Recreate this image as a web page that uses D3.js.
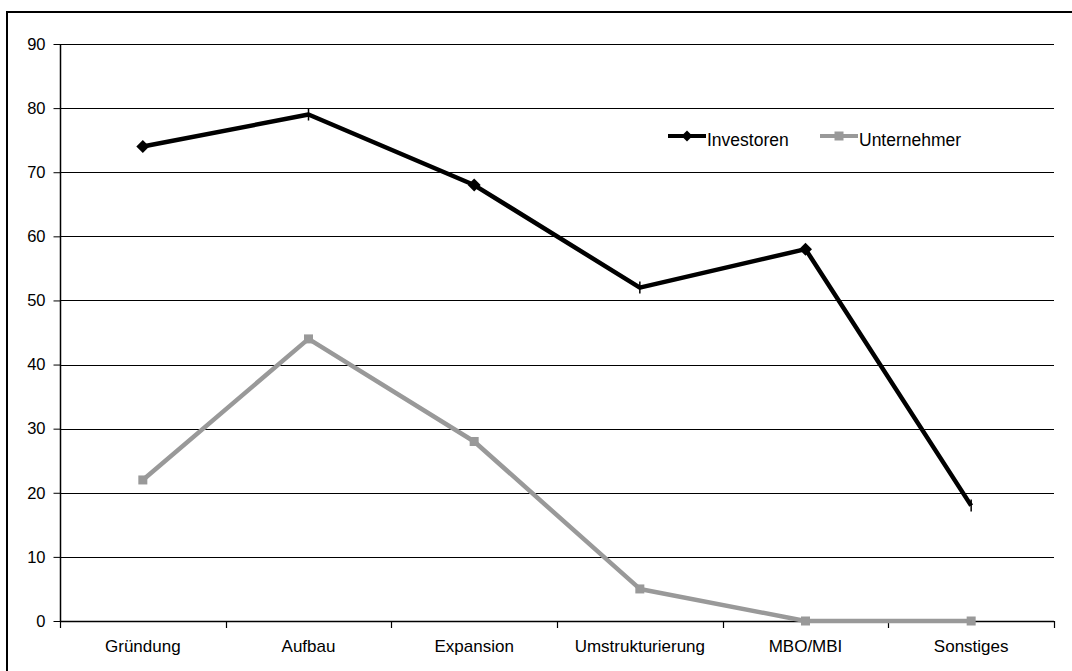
<!DOCTYPE html>
<html>
<head>
<meta charset="utf-8">
<script src="https://cdn.jsdelivr.net/npm/d3@7"></script>
<style>
  body { margin: 0; background: #fff; }
  svg { display: block; font-family: "Liberation Sans", Arial, sans-serif; }
</style>
</head>
<body>
<svg id="chart"></svg>
<script>
(function(){
    "use strict";

    const categories = ["Gründung", "Aufbau", "Expansion", "Umstrukturierung", "MBO/MBI", "Sonstiges"];
    const investoren = [74, 79, 68, 52, 58, 18];
    const unternehmer = [22, 44, 28, 5, 0, 0];
    const yTicks = [0, 10, 20, 30, 40, 50, 60, 70, 80, 90];

    const width = 1072,
        height = 671,
        left = 60, right = 1054, top = 44, bottom = 621,
        grey = "#999999";

    const svg = d3.select("svg#chart")
        .attr("width", width)
        .attr("height", height);

    // outer frame (only top and left edges visible)
    svg.append("path")
        .attr("d", `M7,${height} V12 H${width}`)
        .attr("fill", "none")
        .attr("stroke", "#000")
        .attr("stroke-width", 2);

    const x = d3.scaleBand().domain(categories).range([left, right]).padding(0);
    const y = d3.scaleLinear().domain([0, 90]).range([bottom, top]);
    const cx = d => x(d) + x.bandwidth() / 2;

    // gridlines
    svg.append("g")
        .selectAll("line")
        .data(yTicks.filter(d => d > 0))
        .join("line")
        .attr("x1", left).attr("x2", right)
        .attr("y1", d => Math.round(y(d)) + 0.5)
        .attr("y2", d => Math.round(y(d)) + 0.5)
        .attr("stroke", "#000")
        .attr("stroke-width", 1);

    // y axis
    const yAxis = svg.append("g")
        .attr("transform", `translate(${left + 0.5},0)`)
        .call(d3.axisLeft(y).tickValues(yTicks).tickSize(7).tickPadding(8));
    yAxis.select(".domain").remove();
    yAxis.selectAll(".tick line").attr("stroke", "#000");
    yAxis.selectAll("text").attr("font-size", 16.5).attr("fill", "#000").attr("font-family", null);
    svg.append("line")
        .attr("x1", left + 0.5).attr("x2", left + 0.5)
        .attr("y1", top).attr("y2", bottom)
        .attr("stroke", "#000").attr("stroke-width", 1.5);

    // x axis
    const xAxis = svg.append("g")
        .attr("transform", `translate(0,${bottom})`)
        .call(d3.axisBottom(x).tickSize(0).tickPadding(19));
    xAxis.select(".domain").remove();
    xAxis.selectAll("text").attr("font-size", 17).attr("fill", "#000").attr("font-family", null);

    svg.append("line")
        .attr("x1", left).attr("x2", right)
        .attr("y1", bottom + 0.5).attr("y2", bottom + 0.5)
        .attr("stroke", "#000").attr("stroke-width", 1.5);

    const edges = categories.map(d => x(d)).concat([right]);
    svg.append("g")
        .selectAll("line")
        .data(edges)
        .join("line")
        .attr("x1", d => Math.round(d) + 0.5).attr("x2", d => Math.round(d) + 0.5)
        .attr("y1", bottom).attr("y2", bottom + 7)
        .attr("stroke", "#000").attr("stroke-width", 1.2);

    const line = d3.line()
        .x((d, i) => cx(categories[i]))
        .y(d => y(d));

    // Unternehmer
    svg.append("path")
        .datum(unternehmer)
        .attr("d", line)
        .attr("fill", "none")
        .attr("stroke", grey)
        .attr("stroke-width", 4.5)
        .attr("stroke-linejoin", "round");

    svg.append("g")
        .selectAll("rect")
        .data(unternehmer)
        .join("rect")
        .attr("x", (d, i) => cx(categories[i]) - 4.5)
        .attr("y", d => y(d) - 4.5)
        .attr("width", 9).attr("height", 9)
        .attr("fill", grey);

    // Investoren
    svg.append("path")
        .datum(investoren)
        .attr("d", line)
        .attr("fill", "none")
        .attr("stroke", "#000")
        .attr("stroke-width", 4.5)
        .attr("stroke-linejoin", "round");

    const diamond = "M0,-6.5 L6.5,0 L0,6.5 L-6.5,0 Z";
    const marks = svg.append("g")
        .selectAll("g")
        .data(investoren)
        .join("g")
        .attr("transform", (d, i) => `translate(${cx(categories[i])},${y(d)})`);

    marks.filter((d, i) => i % 2 === 0)
        .append("path")
        .attr("d", diamond)
        .attr("fill", "#000");

    marks.filter((d, i) => i % 2 === 1)
        .append("line")
        .attr("x1", 0).attr("x2", 0)
        .attr("y1", -6).attr("y2", 6)
        .attr("stroke", "#000")
        .attr("stroke-width", 1.5);

    // legend
    const legend = svg.append("g").attr("transform", "translate(0,136)");
    legend.append("line")
        .attr("x1", 668).attr("x2", 706).attr("y1", 0).attr("y2", 0)
        .attr("stroke", "#000").attr("stroke-width", 4);
    legend.append("path")
        .attr("transform", "translate(687,0)")
        .attr("d", "M0,-5.5 L5.5,0 L0,5.5 L-5.5,0 Z")
        .attr("fill", "#000");
    legend.append("text")
        .attr("x", 707).attr("y", 10)
        .attr("font-size", 17.5)
        .text("Investoren");

    legend.append("line")
        .attr("x1", 820).attr("x2", 858).attr("y1", 0).attr("y2", 0)
        .attr("stroke", grey).attr("stroke-width", 4);
    legend.append("rect")
        .attr("x", 834.5).attr("y", -4.5)
        .attr("width", 9).attr("height", 9)
        .attr("fill", grey);
    legend.append("text")
        .attr("x", 859).attr("y", 10)
        .attr("font-size", 17.5)
        .text("Unternehmer");
})();
</script>
</body>
</html>
